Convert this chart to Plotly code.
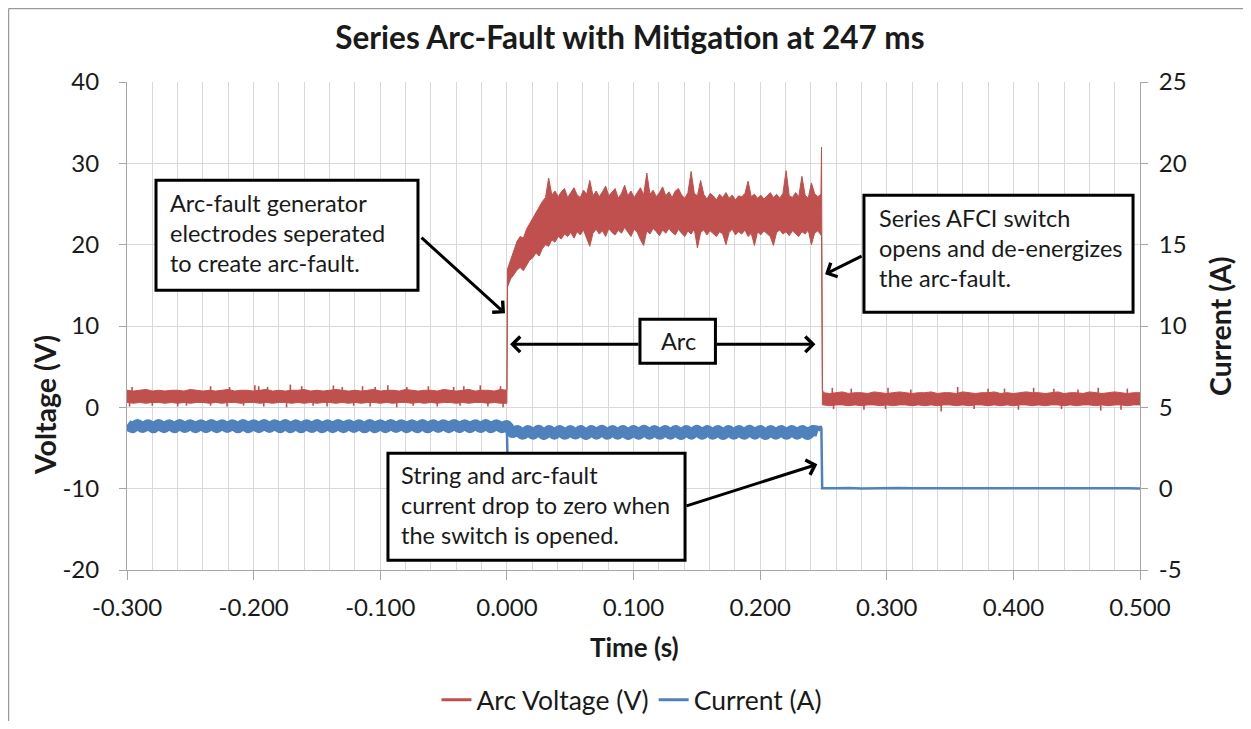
import numpy as np
import plotly.graph_objects as go

# ---------------- data ----------------
RED = "#C0504D"
BLUE = "#4F81BD"
FONT = "Lato"

x_ticks = [-0.3, -0.2, -0.1, 0.0, 0.1, 0.2, 0.3, 0.4, 0.5]
x_tick_text = ["-0.300", "-0.200", "-0.100", "0.000", "0.100", "0.200", "0.300", "0.400", "0.500"]
v_ticks = [-20, -10, 0, 10, 20, 30, 40]
v_tick_text = ["-20", "-10", "0", "10", "20", "30", "40"]
i_ticks = [-5, 0, 5, 10, 15, 20, 25]
i_tick_text = ["-5", "0", "5", "10", "15", "20", "25"]

# Arc voltage, before the arc (t = -0.300 ... 0.000, every 5 ms): band top / bottom
t_v_pre = np.round(np.arange(-0.300, 0.0001, 0.005), 4)
v_pre_hi = [2.1, 2.0, 2.1, 2.2, 2.0, 2.1, 2.0, 2.1, 2.1, 2.0,
            2.2, 2.1, 2.0, 2.1, 2.0, 2.1, 2.2, 2.0, 2.1, 2.1,
            2.0, 2.1, 2.2, 2.0, 2.1, 2.0, 2.1, 2.1, 2.2, 2.0,
            2.1, 2.0, 2.1, 2.2, 2.1, 2.0, 2.1, 2.0, 2.1, 2.2,
            2.0, 2.1, 2.1, 2.0, 2.2, 2.1, 2.0, 2.1, 2.1, 2.0,
            2.2, 2.1, 2.0, 2.1, 2.2, 2.0, 2.1, 2.1, 2.0, 2.2,
            2.1]
v_pre_lo = [0.6, 0.5, 0.6, 0.5, 0.6, 0.6, 0.5, 0.6, 0.5, 0.6,
            0.5, 0.6, 0.6, 0.5, 0.6, 0.5, 0.6, 0.6, 0.5, 0.6,
            0.6, 0.5, 0.6, 0.5, 0.6, 0.6, 0.5, 0.6, 0.5, 0.6,
            0.5, 0.6, 0.6, 0.5, 0.6, 0.5, 0.6, 0.5, 0.6, 0.6,
            0.5, 0.6, 0.5, 0.6, 0.6, 0.5, 0.6, 0.5, 0.6, 0.5,
            0.6, 0.6, 0.5, 0.6, 0.5, 0.6, 0.6, 0.5, 0.6, 0.5,
            0.5]

# Arc voltage while arcing (t = 0.0005 ... 0.248, every 2.5 ms)
t_v_arc = np.round(0.0005 + 0.0025 * np.arange(100), 4)
v_arc_hi = [17.0, 18.2, 19.3, 20.4, 21.0, 20.8, 21.9, 22.6, 23.2, 24.0,
            24.6, 25.3, 25.8, 28.2, 26.1, 26.6, 25.9, 26.5, 26.9, 25.8,
            26.4, 27.0, 26.1, 25.8, 26.7, 26.2, 27.9, 26.0, 26.6, 25.9,
            26.5, 27.2, 26.0, 26.4, 26.9, 25.7, 26.3, 27.3, 26.0, 26.6,
            25.8, 26.4, 27.0, 26.1, 28.8, 26.2, 26.7, 25.9, 26.4, 27.1,
            26.0, 26.5, 25.8, 26.6, 26.9, 26.1, 25.7, 26.4, 29.0, 26.3,
            26.0, 27.9, 26.2, 25.6, 26.3, 26.0, 25.5, 26.2, 25.8, 26.4,
            25.7, 26.1, 25.5, 26.0, 25.9, 26.3, 27.8, 25.9, 26.2, 25.7,
            26.1, 25.6, 26.0, 26.4, 25.8, 26.2, 25.7, 26.3, 29.1, 26.0,
            25.8, 26.4, 25.9, 28.4, 26.1, 25.7, 27.6, 26.3, 25.9, 26.2]
v_arc_lo = [14.8, 15.8, 16.3, 16.9, 17.2, 16.8, 17.5, 18.1, 18.4, 19.0,
            18.6, 19.5, 20.0, 19.8, 20.6, 20.3, 21.0, 20.7, 21.3, 21.0,
            21.5, 20.8, 21.6, 21.2, 21.8, 20.9, 19.8, 21.4, 21.9, 21.3,
            21.7, 21.0, 22.0, 21.5, 21.2, 21.8, 21.4, 22.1, 21.6, 21.0,
            21.9, 21.5, 20.6, 19.9, 21.7, 21.3, 22.0, 21.6, 21.1, 21.8,
            21.4, 22.0, 21.5, 21.2, 21.9, 21.4, 21.0, 21.7, 21.3, 21.9,
            19.6, 21.5, 21.8, 21.2, 21.7, 21.4, 21.0, 21.6, 21.3, 20.0,
            21.5, 21.9, 21.2, 21.6, 21.3, 21.8, 21.0, 21.4, 19.9, 21.6,
            21.2, 21.7, 21.4, 21.0, 19.9, 21.5, 21.8, 21.3, 21.6, 21.1,
            21.7, 21.4, 21.0, 21.6, 21.3, 21.8, 20.0, 21.4, 21.7, 21.2]

# Switch opening: the spike and the fall
t_v_fall = [0.2485, 0.2492]
v_fall_hi = [32.0, 2.2]
v_fall_lo = [21.0, 0.3]

# Arc voltage after the switch opened (t = 0.250 ... 0.500, every 5 ms)
t_v_post = np.round(np.arange(0.250, 0.5001, 0.005), 4)
v_post_hi = [1.8, 1.7, 1.8, 1.9, 1.7, 1.8, 1.8, 1.7, 1.9, 1.8,
             1.7, 1.8, 1.9, 1.8, 1.7, 1.8, 1.8, 1.9, 1.7, 1.8,
             1.8, 1.7, 1.9, 1.8, 1.7, 1.8, 1.8, 1.9, 1.7, 1.8,
             1.7, 1.8, 1.9, 1.8, 1.8, 1.7, 1.8, 1.9, 1.7, 1.8,
             1.8, 1.7, 1.9, 1.8, 1.7, 1.8, 1.9, 1.8, 1.7, 1.8,
             1.8]
v_post_lo = [0.3, 0.2, 0.3, 0.3, 0.2, 0.3, 0.2, 0.3, 0.3, 0.2,
             0.3, 0.2, 0.3, 0.3, 0.2, 0.3, 0.2, 0.3, 0.2, 0.3,
             0.3, 0.2, 0.3, 0.2, 0.3, 0.3, 0.2, 0.3, 0.2, 0.3,
             0.2, 0.3, 0.3, 0.2, 0.3, 0.2, 0.3, 0.3, 0.2, 0.3,
             0.2, 0.3, 0.3, 0.2, 0.3, 0.2, 0.3, 0.3, 0.2, 0.3,
             0.3]

# Isolated voltage spikes (up) and dips (down)
v_up_t = [-0.296, -0.234, -0.219, -0.199, -0.196, -0.189, -0.171, -0.162, -0.137, -0.130,
          -0.114, -0.104, -0.094, -0.079, -0.062, -0.042, -0.034, -0.021, -0.005,
          0.257, 0.272, 0.301, 0.319, 0.356, 0.380, 0.393, 0.416, 0.432, 0.451, 0.467, 0.490]
v_up_v = [2.5, 2.6, 2.5, 2.7, 2.6, 2.5, 2.8, 2.6, 2.7, 2.5,
          2.6, 2.5, 2.7, 2.5, 2.6, 2.5, 2.6, 2.7, 2.6,
          2.4, 2.3, 2.4, 2.2, 2.5, 2.3, 2.3, 2.4, 2.3, 2.2, 2.4, 2.3]
v_dn_t = [-0.298, -0.280, -0.260, -0.253, -0.234, -0.221, -0.208, -0.192, -0.174, -0.153,
          -0.142, -0.121, -0.108, -0.087, -0.074, -0.055, -0.037, -0.015, -0.003,
          0.258, 0.282, 0.299, 0.343, 0.369, 0.404, 0.438, 0.469, 0.485]
v_dn_v = [0.1, 0.2, 0.1, 0.2, 0.2, 0.1, 0.2, 0.1, 0.0, 0.2,
          0.1, 0.2, 0.1, 0.0, 0.2, 0.1, 0.2, 0.1, 0.0,
          -0.2, -0.3, -0.2, -0.5, -0.2, -0.3, -0.2, -0.4, -0.3]

# Current with its ripple (peaks / troughs, every 1/240 s)
t_i_pre = np.round(-0.300 + np.arange(73) / 240.0, 5)
i_pre = [3.93, 3.75, 3.94, 3.76, 3.93, 3.74, 3.95, 3.75, 3.93, 3.75,
         3.94, 3.76, 3.93, 3.75, 3.93, 3.75, 3.95, 3.75, 3.93, 3.76,
         3.93, 3.74, 3.94, 3.75, 3.93, 3.75, 3.95, 3.76, 3.93, 3.75,
         3.94, 3.75, 3.93, 3.74, 3.93, 3.76, 3.94, 3.75, 3.93, 3.75,
         3.95, 3.75, 3.93, 3.76, 3.93, 3.74, 3.94, 3.75, 3.93, 3.75,
         3.95, 3.76, 3.93, 3.75, 3.93, 3.75, 3.94, 3.74, 3.93, 3.76,
         3.93, 3.75, 3.95, 3.75, 3.93, 3.75, 3.93, 3.76, 3.94, 3.75,
         3.93, 3.75, 3.88]
t_i_on = np.round(np.arange(1, 60) / 240.0, 5)
i_on = [3.45, 3.58, 3.34, 3.57, 3.35, 3.59, 3.33, 3.58, 3.35, 3.58,
        3.34, 3.57, 3.36, 3.58, 3.33, 3.58, 3.35, 3.59, 3.34, 3.57,
        3.35, 3.58, 3.33, 3.58, 3.34, 3.59, 3.35, 3.57, 3.34, 3.58,
        3.35, 3.58, 3.33, 3.57, 3.35, 3.59, 3.34, 3.58, 3.35, 3.57,
        3.33, 3.58, 3.35, 3.57, 3.34, 3.59, 3.35, 3.58, 3.33, 3.57,
        3.35, 3.58, 3.34, 3.58, 3.35, 3.57, 3.33, 3.58, 3.52]
# dip right at arc ignition
t_i_dip = [0.0, 0.0004]
i_dip = [3.75, 2.25]
# drop to zero when the switch opens, then zero current
t_i_off = [0.2462, 0.2478, 0.2484, 0.2490, 0.26, 0.27, 0.28, 0.29, 0.30, 0.31, 0.32, 0.33,
           0.34, 0.35, 0.36, 0.37, 0.38, 0.39, 0.40, 0.41, 0.42, 0.43, 0.44, 0.45,
           0.46, 0.47, 0.48, 0.49, 0.50]
i_off = [3.55, 3.85, 3.70, 0.03, 0.02, 0.04, 0.01, 0.03, 0.02, 0.04, 0.03, 0.01,
         0.03, 0.02, 0.04, 0.02, 0.03, 0.01, 0.03, 0.02, 0.04, 0.02, 0.03, 0.01,
         0.03, 0.02, 0.04, 0.02, 0.01]

# Annotation texts
box1_lines = ["Arc-fault generator", "electrodes seperated", "to create arc-fault."]
box2_lines = ["Series AFCI switch", "opens and de-energizes", "the arc-fault."]
box4_lines = ["String and arc-fault", "current drop to zero when", "the switch is opened."]
arc_label = "Arc"

# ---------------- figure ----------------
fig = go.Figure()

# voltage band polygon (top edge forward, bottom edge backward)
t_all = list(t_v_pre) + list(t_v_arc) + t_v_fall + list(t_v_post)
hi_all = v_pre_hi + v_arc_hi + v_fall_hi + v_post_hi
lo_all = v_pre_lo + v_arc_lo + v_fall_lo + v_post_lo
fig.add_trace(go.Scatter(
    x=t_all + t_all[::-1], y=hi_all + lo_all[::-1],
    fill="toself", fillcolor=RED, mode="lines",
    line=dict(color=RED, width=1), showlegend=False, hoverinfo="skip"))

# isolated spikes as thin vertical strokes from the band middle
sx, sy = [], []
for t, v in zip(v_up_t, v_up_v):
    sx += [t, t, None]
    sy += [1.3, v, None]
for t, v in zip(v_dn_t, v_dn_v):
    sx += [t, t, None]
    sy += [1.0, v, None]
fig.add_trace(go.Scatter(x=sx, y=sy, mode="lines", line=dict(color=RED, width=1.6),
                         showlegend=False, hoverinfo="skip"))

# current (right axis)
fig.add_trace(go.Scatter(x=list(t_i_pre) + list(t_i_on), y=i_pre + i_on, yaxis="y2",
                         mode="lines", line=dict(color=BLUE, width=11, shape="spline", smoothing=0.8),
                         showlegend=False, hoverinfo="skip"))
fig.add_trace(go.Scatter(x=t_i_dip, y=i_dip, yaxis="y2", mode="lines",
                         line=dict(color=BLUE, width=2.5), showlegend=False, hoverinfo="skip"))
fig.add_trace(go.Scatter(x=t_i_off, y=i_off, yaxis="y2", mode="lines",
                         line=dict(color=BLUE, width=2.5), showlegend=False, hoverinfo="skip"))

# legend entries
fig.add_trace(go.Scatter(x=[None], y=[None], mode="lines", name="Arc Voltage (V)",
                         line=dict(color=RED, width=3)))
fig.add_trace(go.Scatter(x=[None], y=[None], mode="lines", name="Current (A)",
                         line=dict(color=BLUE, width=3)))

GRID = "#D9D9D9"
AXIS = "#A6A6A6"
INK = "#1a1a1a"
TICKFONT = dict(family=FONT, size=24, color=INK)

# page has an 8px body margin: figure is drawn from (8, 8)
fig.update_layout(
    width=1235, height=713,
    margin=dict(l=119, r=103, t=74, b=151, autoexpand=False),
    paper_bgcolor="white", plot_bgcolor="white",
    title=dict(text="<b>Series Arc-Fault with Mitigation at 247 ms</b>",
               x=0.5036, xanchor="center", y=0.958, yanchor="middle",
               font=dict(family=FONT, size=31.5, color=INK)),
    xaxis=dict(range=[-0.3, 0.5], tickvals=x_ticks, ticktext=x_tick_text,
               showgrid=True, gridcolor=GRID, gridwidth=1,
               minor=dict(dtick=0.02, tick0=0, showgrid=True, gridcolor=GRID, gridwidth=1),
               showline=True, linecolor=AXIS, linewidth=1,
               ticks="outside", ticklen=9, tickcolor=AXIS,
               ticklabelstandoff=7, zeroline=False, tickfont=TICKFONT),
    yaxis=dict(range=[-20, 40], tickvals=v_ticks, ticktext=v_tick_text, showgrid=True, gridcolor=GRID,
               showline=True, linecolor=AXIS, linewidth=1,
               ticks="outside", ticklen=7, tickcolor=AXIS,
               ticklabelstandoff=15, zeroline=False, tickfont=TICKFONT),
    yaxis2=dict(range=[-5, 25], tickvals=i_ticks, ticktext=i_tick_text, overlaying="y", side="right",
                showgrid=False, showline=True, linecolor=AXIS, linewidth=1,
                ticks="outside", ticklen=7, tickcolor=AXIS,
                ticklabelstandoff=6, zeroline=False, tickfont=TICKFONT),
    legend=dict(orientation="h", x=0.4985, xanchor="center",
                yref="container", y=0.0295, yanchor="middle",
                font=dict(family=FONT, size=26.5, color=INK), itemwidth=30,
                bgcolor="rgba(0,0,0,0)"),
    showlegend=True,
)

ann = []
TITLEFONT = dict(family=FONT, size=26, color=INK)
VTITLEFONT = dict(family=FONT, size=28.5, color=INK)
ann.append(dict(text="<b>Time (s)</b>", xref="paper", yref="paper", x=0.5005, y=-0.158,
                xanchor="center", yanchor="middle", showarrow=False, font=TITLEFONT))
ann.append(dict(text="<b>Voltage (V)</b>", xref="paper", yref="paper", x=-0.081, y=0.338,
                xanchor="center", yanchor="middle", textangle=-90, showarrow=False, font=VTITLEFONT))
ann.append(dict(text="<b>Current (A)</b>", xref="paper", yref="paper", x=1.079, y=0.5,
                xanchor="center", yanchor="middle", textangle=-90, showarrow=False, font=VTITLEFONT))

shapes = []
# thin chart frame along the top and left edges
FRAME = dict(color="#9A9A9A", width=1.5)
shapes.append(dict(type="line", xref="paper", yref="paper", x0=-0.1170, x1=1.1017,
                   y0=1.1506, y1=1.1506, line=FRAME, layer="above"))
shapes.append(dict(type="line", xref="paper", yref="paper", x0=-0.1170, x1=-0.1170,
                   y0=1.1506, y1=-0.3094, line=FRAME, layer="above"))

BOXLINE = dict(color="black", width=3)
# (x0, x1, y0, y1) in data units of the time / voltage axes
boxes = [(-0.2771, -0.0702, 14.39, 27.91),
         (0.2820, 0.4945, 11.68, 26.07),
         (0.1051, 0.1647, 5.41, 10.82),
         (-0.0939, 0.1407, -18.81, -5.66)]
for x0, x1, y0, y1 in boxes:
    shapes.append(dict(type="rect", xref="x", yref="y", x0=x0, x1=x1, y0=y0, y1=y1,
                       line=BOXLINE, fillcolor="white", layer="above"))

TXT = dict(family=FONT, size=23.5, color=INK)
for lines, xl, ys in [(box1_lines, -0.2676, [25.08, 21.39, 17.71]),
                      (box2_lines, 0.2923, [23.24, 19.55, 15.86]),
                      (box4_lines, -0.0852, [-8.36, -12.05, -15.74])]:
    for s, yy in zip(lines, ys):
        ann.append(dict(text=s, xref="x", yref="y", x=xl, y=yy, xanchor="left",
                        yanchor="middle", showarrow=False, font=TXT))
ann.append(dict(text=arc_label, xref="x", yref="y", x=0.1359, y=8.11, showarrow=False,
                xanchor="center", yanchor="middle", font=TXT))

# arrows: (head x, head y, tail x, tail y)
arrows = [(-0.0015, 11.56, -0.0686, 21.03),
          (0.2513, 16.35, 0.2813, 18.69),
          (0.0025, 7.75, 0.1051, 7.75),
          (0.2437, 7.75, 0.1647, 7.75),
          (0.2452, -7.01, 0.1407, -12.17)]
for hx, hy, tx, ty in arrows:
    ann.append(dict(text="", x=hx, y=hy, xref="x", yref="y", ax=tx, ay=ty,
                    axref="x", ayref="y", showarrow=True, arrowhead=4, arrowsize=1,
                    arrowwidth=3, arrowcolor="black", standoff=0, startstandoff=0))

fig.update_layout(annotations=ann, shapes=shapes)
fig.write_html("out.html")
